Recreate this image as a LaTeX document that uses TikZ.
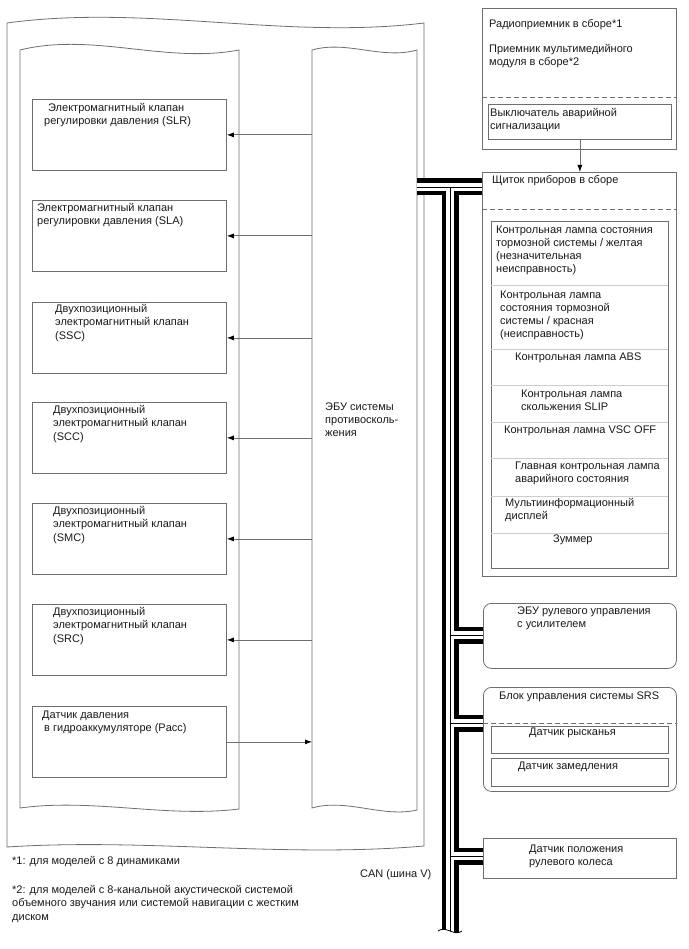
\documentclass[tikz,border=0pt]{standalone}
\usepackage{fontspec}
\setmainfont{Liberation Sans}
\usetikzlibrary{arrows.meta,calc}

\definecolor{linegray}{RGB}{110,110,110}
\definecolor{divgray}{RGB}{205,205,205}
\definecolor{textblack}{RGB}{25,25,25}

\tikzset{
  box/.style={draw=linegray, line width=0.8pt, inner sep=0pt, anchor=north west},
  rbox/.style={box, rounded corners=8pt},
  txt/.style={inner sep=0pt, anchor=west, align=left, text=textblack,
    font=\fontsize{11}{13.2}\selectfont},
  wavy/.style={draw=linegray, line width=0.8pt},
  sig/.style={draw=linegray, line width=0.8pt, ->},
  sep/.style={draw=linegray, line width=0.8pt, dash pattern=on 5pt off 3pt},
  divider/.style={draw=divgray, line width=0.8pt},
  busblack/.style={draw=black, line width=17pt},
  buswhite/.style={draw=white, line width=8.5pt},
  buscore/.style={draw=black, line width=0.8pt},
}

\begin{document}
\begin{tikzpicture}[x=1pt, y=-1pt, >={Latex[length=7pt,width=5pt,color=black]}]
  \useasboundingbox (0,0) rectangle (688,949);

  % Outer frame, actuator and ECU
  \draw[wavy] (7,23) .. controls (146,4) and (285,40) .. (424,23) -- (424,846)
    .. controls (285,858) and (146,838) .. (7,847) -- cycle;
  \draw[wavy] (20,50) .. controls (93,32) and (166,64) .. (239,50) -- (239,809)
    .. controls (166,818) and (93,798) .. (20,808) -- cycle;
  \draw[wavy] (312,50) .. controls (347,40) and (382,60) .. (417,50) -- (417,810)
    .. controls (382,818) and (347,798) .. (312,808) -- cycle;
  \node[inner sep=0pt, anchor=north west, minimum width=105pt, minimum height=759pt] (ecu) at (312,50) {};
  \node[txt] (ecutext) at (325,420) {ЭБУ системы\\противосколь-\\жения};

  % Valves and sensor
  \node[box, minimum width=194pt, minimum height=71pt] (slr) at (32,99) {};
  \node[box, minimum width=194pt, minimum height=71pt] (sla) at (32,200) {};
  \node[box, minimum width=194pt, minimum height=71pt] (ssc) at (32,302) {};
  \node[box, minimum width=194pt, minimum height=71pt] (scc) at (32,402) {};
  \node[box, minimum width=194pt, minimum height=71pt] (smc) at (32,503) {};
  \node[box, minimum width=194pt, minimum height=71pt] (src) at (32,604) {};
  \node[box, minimum width=194pt, minimum height=71pt] (pacc) at (32,706) {};
  \node[txt] (slrtext) at (44,115) {\hspace*{4pt}Электромагнитный клапан\\регулировки давления (SLR)};
  \node[txt] (slatext) at (37,215) {Электромагнитный клапан\\регулировки давления (SLA)};
  \node[txt] (ssctext) at (55,323) {Двухпозиционный\\электромагнитный клапан\\(SSC)};
  \node[txt] (scctext) at (53,424) {Двухпозиционный\\электромагнитный клапан\\(SCC)};
  \node[txt] (smctext) at (53,525) {Двухпозиционный\\электромагнитный клапан\\(SMC)};
  \node[txt] (srctext) at (53,626) {Двухпозиционный\\электромагнитный клапан\\(SRC)};
  \node[txt] (pacctext) at (42,722) {Датчик давления\\\hspace*{2pt}в гидроаккумуляторе (Pacc)};

  \draw[sig] (ecu.west |- slr) -- (slr.east);
  \draw[sig] (ecu.west |- sla) -- (sla.east);
  \draw[sig] (ecu.west |- ssc) -- (ssc.east);
  \draw[sig] (ecu.west |- scc) -- (scc.east);
  \draw[sig] (ecu.west |- smc) -- (smc.east);
  \draw[sig] (ecu.west |- src) -- (src.east);
  \draw[sig] (pacc.east) -- (ecu.west |- pacc);

  % Radio and hazard switch
  \node[box, minimum width=194pt, minimum height=141pt] (radio) at (482,8) {};
  \node[txt] (radiotext1) at (489,25) {Радиоприемник в сборе*1};
  \node[txt] (radiotext2) at (489,56) {Приемник мультимедийного\\модуля в сборе*2};
  \draw[sep] (482,97) -- (676,97);
  \node[box, minimum width=183pt, minimum height=35pt] (switch) at (488,104) {};
  \node[txt] (switchtext) at (490,120) {Выключатель аварийной\\сигнализации};

  % Combination meter
  \node[box, minimum width=194pt, minimum height=404pt] (cluster) at (482,172) {};
  \node[txt] (clustertext) at (492,181) {Щиток приборов в сборе};
  \draw[sep] (482,209) -- (676,209);
  \node[box, minimum width=177pt, minimum height=347pt] (lamps) at (491,221) {};
  \draw[divider] (491,285) -- (668,285);
  \draw[divider] (491,349) -- (668,349);
  \draw[divider] (491,385) -- (668,385);
  \draw[divider] (491,422) -- (668,422);
  \draw[divider] (491,458) -- (668,458);
  \draw[divider] (491,496) -- (668,496);
  \draw[divider] (491,533) -- (668,533);
  \node[txt] (lamp1) at (496,250.5) {Контрольная лампа состояния\\тормозной системы / желтая\\(незначительная\\неисправность)};
  \node[txt] (lamp2) at (500,315.5) {Контрольная лампа\\состояния тормозной\\системы / красная\\(неисправность)};
  \node[txt] (lamp3) at (515,358) {Контрольная лампа ABS};
  \node[txt] (lamp4) at (521,400.5) {Контрольная лампа\\скольжения SLIP};
  \node[txt] (lamp5) at (504,431) {Контрольная ламна VSC OFF};
  \node[txt] (lamp6) at (515,473) {Главная контрольная лампа\\аварийного состояния};
  \node[txt] (lamp7) at (505,510) {Мультиинформационный\\дисплей};
  \node[txt] (lamp8) at (553,540) {Зуммер};
  \draw[sig] (switch.south) -- (switch.south |- cluster.north);

  % Other CAN nodes
  \node[rbox, minimum width=193pt, minimum height=65pt] (eps) at (483,603) {};
  \node[txt] (epstext) at (517,618.5) {ЭБУ рулевого управления\\с усилителем};
  \node[rbox, minimum width=193pt, minimum height=104pt] (srs) at (483,687) {};
  \node[txt] (srstext) at (499,697) {Блок управления системы SRS};
  \draw[sep] (483,723) -- (676,723);
  \node[box, minimum width=177pt, minimum height=27pt] (yaw) at (491,726) {};
  \node[txt] (yawtext) at (529,733) {Датчик рысканья};
  \node[box, minimum width=177pt, minimum height=28pt] (decel) at (491,758) {};
  \node[txt] (deceltext) at (518,767) {Датчик замедления};
  \node[box, minimum width=193pt, minimum height=40pt] (sas) at (483,838) {};
  \node[txt] (sastext) at (529,856) {Датчик положения\\рулевого колеса};

  % CAN bus (V bus)
  \coordinate (bustop) at (450,187);
  \coordinate (busend) at (450,934);
  \coordinate (j1) at (450,635);
  \coordinate (j2) at (450,723);
  \coordinate (j3) at (450,856);
  \draw[busblack] (ecu.east |- bustop) -- (cluster.west |- bustop) (bustop) -- (busend)
    (j1) -- (eps.west |- j1) (j2) -- (srs.west |- j2) (j3) -- (sas.west |- j3);
  \draw[buswhite] (ecu.east |- bustop) -- (cluster.west |- bustop) (bustop) -- (busend)
    (j1) -- (eps.west |- j1) (j2) -- (srs.west |- j2) (j3) -- (sas.west |- j3);
  \draw[buscore] (ecu.east |- bustop) -- (cluster.west |- bustop) (bustop) -- (busend)
    (j1) -- (eps.west |- j1) (j2) -- (srs.west |- j2) (j3) -- (sas.west |- j3);
  \fill[white] (438,931) .. controls (446,925) and (454,937) .. (462,931) -- (462,940) -- (438,940) -- cycle;
  \draw[buscore] (438,931) .. controls (446,925) and (454,937) .. (462,931);
  \node[txt] (cantext) at (360,875) {CAN (шина V)};

  % Notes
  \node[txt] (note1) at (12,862) {*1: для моделей с 8 динамиками};
  \node[txt] (note2) at (12,904) {*2: для моделей с 8-канальной акустической системой\\объемного звучания или системой навигации с жестким\\диском};
\end{tikzpicture}
\end{document}
